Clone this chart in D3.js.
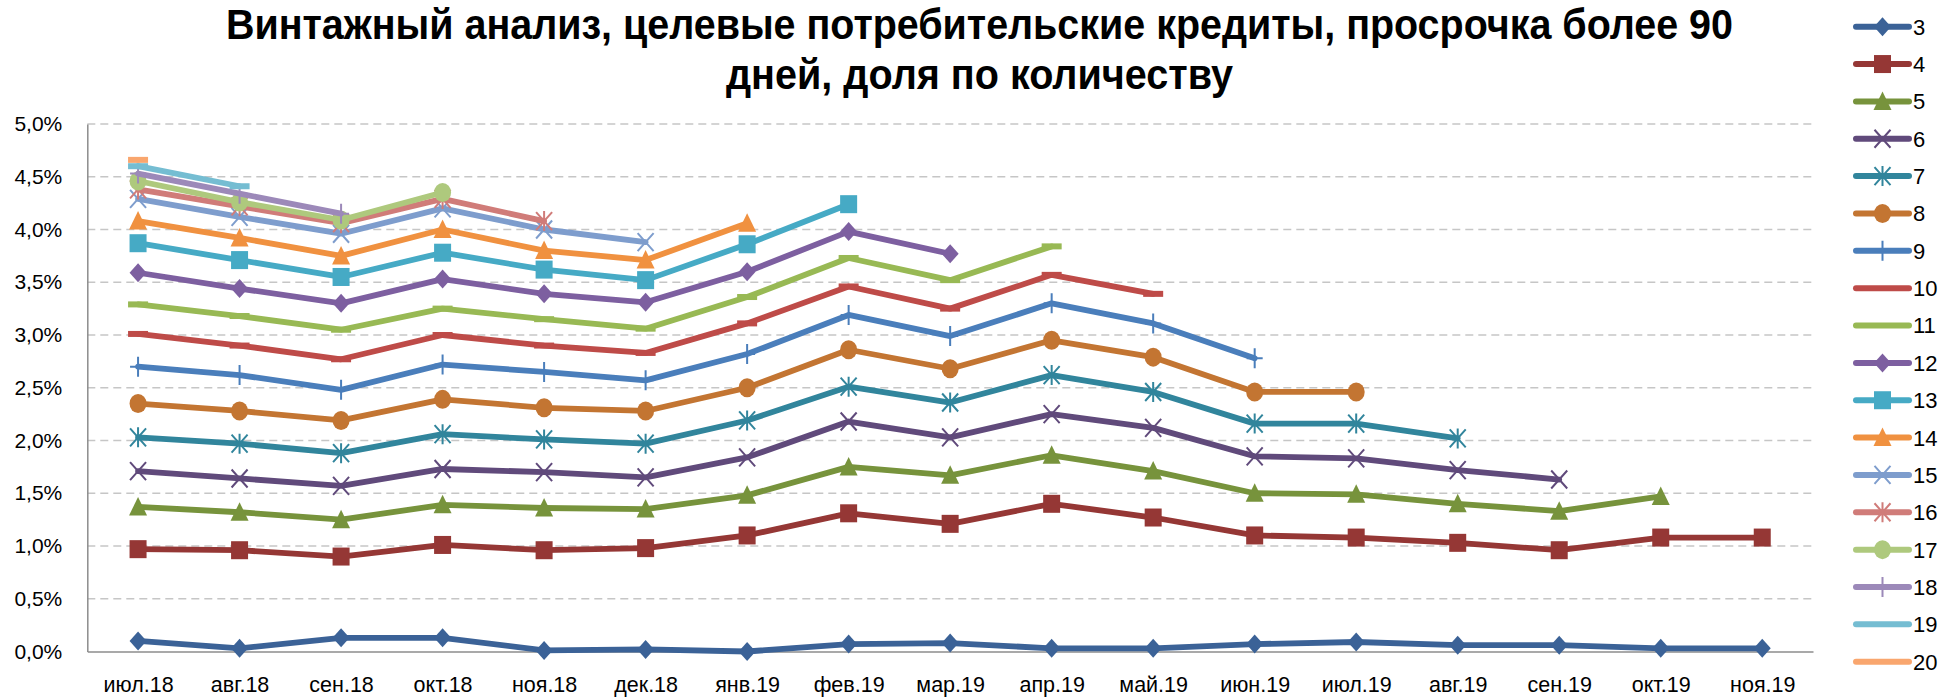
<!DOCTYPE html>
<html lang="ru">
<head>
<meta charset="utf-8">
<title>Винтажный анализ</title>
<script src="https://cdn.jsdelivr.net/npm/d3@7/dist/d3.min.js"></script>
<style>
  html, body { margin: 0; padding: 0; background: #ffffff; }
  svg { display: block; font-family: "Liberation Sans", Arial, sans-serif; }
</style>
</head>
<body>
<svg id="chart" width="1941" height="697"></svg>
<script>
// Reporting months (x axis)
const categories = ["июл.18","авг.18","сен.18","окт.18","ноя.18","дек.18","янв.19","фев.19","мар.19",
                    "апр.19","май.19","июн.19","июл.19","авг.19","сен.19","окт.19","ноя.19"];

// Share of loans 90+ days overdue, %, by vintage (months on book)
const v3  = [0.10,0.03,0.13,0.13,0.01,0.02,0.00,0.07,0.08,0.03,0.03,0.07,0.09,0.06,0.06,0.03,0.03];
const v4  = [0.97,0.96,0.90,1.01,0.96,0.98,1.10,1.31,1.21,1.40,1.27,1.10,1.08,1.03,0.96,1.08,1.08];
const v5  = [1.37,1.32,1.25,1.39,1.36,1.35,1.48,1.75,1.67,1.86,1.71,1.50,1.49,1.40,1.33,1.47];
const v6  = [1.71,1.64,1.57,1.73,1.70,1.65,1.84,2.18,2.03,2.25,2.12,1.85,1.83,1.72,1.63];
const v7  = [2.03,1.97,1.88,2.06,2.01,1.97,2.19,2.51,2.36,2.62,2.46,2.16,2.16,2.02];
const v8  = [2.35,2.28,2.19,2.39,2.31,2.28,2.50,2.86,2.68,2.95,2.79,2.46,2.46];
const v9  = [2.70,2.62,2.48,2.72,2.65,2.57,2.82,3.19,2.99,3.30,3.11,2.78];
const v10 = [3.01,2.90,2.77,3.00,2.90,2.83,3.11,3.46,3.25,3.57,3.39];
const v11 = [3.29,3.18,3.05,3.25,3.15,3.06,3.36,3.73,3.52,3.84];
const v12 = [3.59,3.44,3.30,3.53,3.39,3.31,3.60,3.98,3.77];
const v13 = [3.87,3.71,3.55,3.78,3.62,3.52,3.86,4.24];
const v14 = [4.08,3.92,3.75,4.00,3.80,3.71,4.06];
const v15 = [4.29,4.12,3.96,4.20,4.00,3.88];
const v16 = [4.38,4.22,4.06,4.29,4.08];
const v17 = [4.46,4.26,4.09,4.35];
const v18 = [4.53,4.34,4.15];
const v19 = [4.60,4.41];
const v20 = [4.66];

const seriesNames   = ["3","4","5","6","7","8","9","10","11","12","13","14","15","16","17","18","19","20"];
const seriesValues  = [v3,v4,v5,v6,v7,v8,v9,v10,v11,v12,v13,v14,v15,v16,v17,v18,v19,v20];
const seriesColors  = ["#3B6297","#953735","#77933C","#604A7B","#31859C","#C37532",
                       "#4A7EBB","#BE4B48","#98B954","#7D5FA0","#46AAC5","#F09140",
                       "#7E9DCD","#D07C79","#AEC97D","#9C89B9","#75BDD2","#F9A66E"];
const seriesMarkers = ["diamond","square","triangle","x","star","circle",
                       "plus","dash","dash","diamond","square","triangle",
                       "x","star","circle","plus","dash","dash"];

const yTicks = [0,0.5,1,1.5,2,2.5,3,3.5,4,4.5,5];
const titleLines = ["Винтажный анализ, целевые потребительские кредиты, просрочка более 90",
                    "дней, доля по количеству"];

const series = seriesNames.map((name, i) => ({
  name, color: seriesColors[i], marker: seriesMarkers[i],
  points: seriesValues[i].map((v, j) => ({ cat: categories[j], v }))
}));

const svg = d3.select("#chart");
const plot = { left: 87.3, right: 1813, top: 124, bottom: 651.5 };

const x = d3.scalePoint().domain(categories).range([plot.left, plot.right]).padding(0.5);
const y = d3.scaleLinear().domain([0, 5]).range([plot.bottom, plot.top]);
const fmt = v => d3.format(".1f")(v).replace(".", ",") + "%";

// Title, two lines
const title = svg.append("g").attr("font-weight", "bold").attr("font-size", 42).attr("fill", "#000");
title.append("text").attr("x", 226).attr("y", 39)
  .attr("textLength", 1507).attr("lengthAdjust", "spacingAndGlyphs").text(titleLines[0]);
title.append("text").attr("x", 726).attr("y", 89)
  .attr("textLength", 507).attr("lengthAdjust", "spacingAndGlyphs").text(titleLines[1]);

// Horizontal dashed grid
svg.append("g").selectAll("line").data(yTicks.filter(t => t > 0)).join("line")
  .attr("x1", plot.left).attr("x2", plot.right)
  .attr("y1", d => y(d)).attr("y2", d => y(d))
  .attr("stroke", "#C6C6C6").attr("stroke-width", 1.6).attr("stroke-dasharray", "8,5");

// Y axis
const yAxis = svg.append("g").attr("transform", `translate(${plot.left},0)`)
  .call(d3.axisLeft(y).tickValues(yTicks).tickFormat(fmt).tickSize(0).tickPadding(25));
yAxis.select(".domain").attr("stroke", "#8C8C8C").attr("stroke-width", 1.5);
yAxis.selectAll("text").attr("font-size", 21).attr("fill", "#000")
  .attr("font-family", "'Liberation Sans', Arial, sans-serif");

// X axis
const xAxis = svg.append("g").attr("transform", `translate(0,${plot.bottom})`)
  .call(d3.axisBottom(x).tickSize(0).tickPadding(25));
xAxis.select(".domain").attr("stroke", "#8C8C8C").attr("stroke-width", 1.5);
xAxis.selectAll("text").attr("font-size", 21.5).attr("fill", "#000")
  .attr("font-family", "'Liberation Sans', Arial, sans-serif");

// Marker shapes, drawn around (0,0)
function drawMarker(g, type, color) {
  switch (type) {
    case "diamond":
      g.append("path").attr("d", "M0,-9.5L8.5,0L0,9.5L-8.5,0Z").attr("fill", color);
      break;
    case "square":
      g.append("rect").attr("x", -8.5).attr("y", -9).attr("width", 17).attr("height", 18).attr("fill", color);
      break;
    case "triangle":
      g.append("path").attr("d", "M0,-10L9,8.5L-9,8.5Z").attr("fill", color);
      break;
    case "circle":
      g.append("ellipse").attr("rx", 8.5).attr("ry", 9.5).attr("fill", color);
      break;
    case "x":
      g.append("path").attr("d", "M-8,-9L8,9M8,-9L-8,9").attr("stroke", color).attr("stroke-width", 2).attr("fill", "none");
      break;
    case "star":
      g.append("path").attr("d", "M-8,-9L8,9M8,-9L-8,9M0,-10L0,10").attr("stroke", color).attr("stroke-width", 2).attr("fill", "none");
      break;
    case "plus":
      g.append("path").attr("d", "M0,-10L0,10M-8,0L8,0").attr("stroke", color).attr("stroke-width", 2).attr("fill", "none");
      break;
    case "dash":
      g.append("rect").attr("x", -10).attr("y", -3).attr("width", 20).attr("height", 6).attr("fill", color);
      break;
  }
}

// Series lines with markers
const line = d3.line().x(d => x(d.cat)).y(d => y(d.v));
const sg = svg.append("g").selectAll("g").data(series).join("g");
sg.append("path")
  .attr("d", d => line(d.points))
  .attr("fill", "none").attr("stroke", d => d.color).attr("stroke-width", 5.8)
  .attr("stroke-linejoin", "round").attr("stroke-linecap", "round");
sg.each(function(s) {
  const g = d3.select(this);
  s.points.forEach(p => {
    const m = g.append("g").attr("transform", `translate(${x(p.cat)},${y(p.v)})`);
    drawMarker(m, s.marker, s.color);
  });
});

// Legend
const legend = svg.append("g");
const legendY = d3.scalePoint().domain(seriesNames).range([26.7, 661.7]);
const li = legend.selectAll("g").data(series).join("g")
  .attr("transform", d => `translate(0,${legendY(d.name)})`);
li.append("line").attr("x1", 1856).attr("x2", 1909)
  .attr("stroke", d => d.color).attr("stroke-width", 6).attr("stroke-linecap", "round");
li.each(function(s) {
  if (s.marker === "dash") return;
  const m = d3.select(this).append("g").attr("transform", "translate(1882.5,0)");
  drawMarker(m, s.marker, s.color);
});
li.append("text").attr("x", 1913).attr("dy", "0.36em").attr("font-size", 22).attr("fill", "#000")
  .text(d => d.name);
</script>
</body>
</html>
